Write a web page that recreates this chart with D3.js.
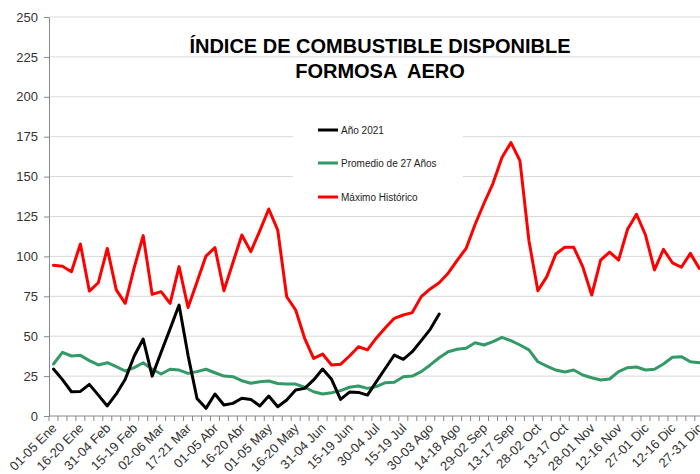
<!DOCTYPE html>
<html>
<head>
<meta charset="utf-8">
<script src="https://cdn.jsdelivr.net/npm/d3@7"></script>
<style>
  html, body { margin: 0; padding: 0; background: #fff; }
  svg { display: block; font-family: Arial, "Liberation Sans", sans-serif; }
</style>
</head>
<body>
<svg id="chart" width="700" height="474"></svg>
<script>
const categories = [
  "01-05 Ene","06-10 Ene","11-15 Ene","16-20 Ene","21-25 Ene","26-30 Ene",
  "31-04 Feb","05-09 Feb","10-14 Feb","15-19 Feb","20-24 Feb","25-01 Mar",
  "02-06 Mar","07-11 Mar","12-16 Mar","17-21 Mar","22-26 Mar","27-31 Mar",
  "01-05 Abr","06-10 Abr","11-15 Abr","16-20 Abr","21-25 Abr","26-30 Abr",
  "01-05 May","06-10 May","11-15 May","16-20 May","21-25 May","26-30 May",
  "31-04 Jun","05-09 Jun","10-14 Jun","15-19 Jun","20-24 Jun","25-29 Jun",
  "30-04 Jul","05-09 Jul","10-14 Jul","15-19 Jul","20-24 Jul","25-29 Jul",
  "30-03 Ago","04-08 Ago","09-13 Ago","14-18 Ago","19-23 Ago","24-28 Ago",
  "29-02 Sep","03-07 Sep","08-12 Sep","13-17 Sep","18-22 Sep","23-27 Sep",
  "28-02 Oct","03-07 Oct","08-12 Oct","13-17 Oct","18-22 Oct","23-27 Oct",
  "28-01 Nov","02-06 Nov","07-11 Nov","12-16 Nov","17-21 Nov","22-26 Nov",
  "27-01 Dic","02-06 Dic","07-11 Dic","12-16 Dic","17-21 Dic","22-26 Dic",
  "27-31 Dic"
];
const tickLabels = categories.filter((c, i) => i % 3 === 0);
const yTicks = [0, 25, 50, 75, 100, 125, 150, 175, 200, 225, 250];

const year2021 = [29.4, 22.8, 15.2, 15.4, 19.8, 13.1, 6.3, 13.8, 23, 37.6,
  48.2, 25, 40, 54.6, 69.5, 38, 11, 4.8, 13.8, 6.9,
  7.9, 11.1, 10.4, 6.3, 12.5, 5.8, 10, 16.3, 17.3, 22.6,
  29.4, 23, 10.4, 15, 14.8, 13.1, 21.5, 29.9, 38.2, 35.5,
  40.3, 47.2, 54.3, 63.9];
const promedio27 = [32.6, 39.9, 37.6, 38, 34.7, 32, 33.4, 30.9, 28.2, 30.3,
  33.4, 29.3, 26.3, 29.3, 28.8, 26.7, 27.8, 29.3, 27.1, 25,
  24.6, 22.1, 20.5, 21.5, 21.9, 20.4, 20, 20, 18, 15.2,
  13.8, 14.6, 15.9, 18, 18.8, 17.3, 18.4, 20.9, 21.2, 24.6,
  25, 27.8, 32, 36.5, 40.3, 41.8, 42.4, 45.9, 44.5, 46.6,
  49.3, 47.2, 44.5, 41.4, 34, 31.3, 28.8, 27.6, 28.8, 25.7,
  24, 22.6, 23.2, 27.8, 30.3, 30.7, 28.8, 29.3, 32.6, 36.8,
  37.2, 34, 33.4];
const maximoHist = [94.4, 93.8, 90.4, 107.8, 78.3, 83.5, 105, 79, 70.6, 93,
  113, 76.2, 77.9, 70.6, 93.6, 68, 84, 100.2, 105.5, 78.5,
  96, 113.4, 103, 116, 129.7, 116.5, 74.7, 66.4, 48.7, 36.1,
  38.8, 32, 32.4, 37.6, 43.4, 41.4, 48.9, 55.3, 61.2, 63.3,
  64.8, 74.8, 79.6, 83.5, 89.5, 97.5, 105, 120, 133.3, 145.8,
  162, 171.3, 160, 110, 78.5, 87.3, 101.5, 105.7, 105.7, 93.6,
  75.8, 97.7, 102.7, 97.7, 117, 126.4, 113.4, 91.5, 104.4, 96,
  93.2, 101.9, 92.5];

const seriesNames = ["Año 2021", "Promedio de 27 Años", "Máximo Histórico"];
const seriesColors = ["#000000", "#339966", "#ff0000"];
const titleLines = ["ÍNDICE DE COMBUSTIBLE DISPONIBLE", "FORMOSA  AERO"];

const svg = d3.select("#chart");
svg.append("rect").attr("width", 700).attr("height", 474).attr("fill", "#fff");

const plotLeft = 49, bandW = 8.97, plotTop = 17, plotBottom = 416;
const x = d3.scaleBand().domain(categories).range([plotLeft, plotLeft + categories.length * bandW]).padding(0);
const cx = c => x(c) + x.bandwidth() / 2;
const y = d3.scaleLinear().domain([0, 250]).range([plotBottom, plotTop]);

// gridlines
svg.append("g").selectAll("line").data(yTicks.filter(v => v > 0)).join("line")
  .attr("x1", plotLeft).attr("x2", 710)
  .attr("y1", d => y(d)).attr("y2", d => y(d))
  .attr("stroke", "#d9d9d9").attr("stroke-width", 1);

// y axis
const yAxis = svg.append("g").attr("transform", `translate(${plotLeft},0)`)
  .call(d3.axisLeft(y).tickValues(yTicks).tickSize(5).tickSizeOuter(0));
yAxis.select(".domain").attr("stroke", "#888");
yAxis.selectAll(".tick line").attr("stroke", "#888");
yAxis.selectAll(".tick text").attr("font-size", 13).attr("fill", "#333")
  .attr("font-family", "Arial, 'Liberation Sans', sans-serif").attr("x", -11);

// x axis
const xg = svg.append("g");
xg.append("line").attr("x1", plotLeft).attr("x2", 710).attr("y1", plotBottom).attr("y2", plotBottom)
  .attr("stroke", "#888");
xg.selectAll("line.tk").data(categories).join("line").attr("class", "tk")
  .attr("x1", d => x(d)).attr("x2", d => x(d))
  .attr("y1", plotBottom).attr("y2", plotBottom + 5).attr("stroke", "#888");
xg.selectAll("text").data(tickLabels).join("text")
  .attr("transform", d => `translate(${cx(d) + 4},${plotBottom + 13}) rotate(-45)`)
  .attr("text-anchor", "end")
  .attr("font-size", 13).attr("fill", "#333")
  .text(d => d);

// lines
const line = d3.line().x((d, i) => cx(categories[i])).y(d => y(d));
const data = [year2021, promedio27, maximoHist];
const order = [1, 2, 0];
order.forEach(k => {
  svg.append("path").datum(data[k])
    .attr("d", line).attr("fill", "none")
    .attr("stroke", seriesColors[k]).attr("stroke-width", 3)
    .attr("stroke-linejoin", "round").attr("stroke-linecap", "round");
});

// title
svg.append("g").selectAll("text").data(titleLines).join("text")
  .attr("x", 380).attr("y", (d, i) => 53 + i * 25)
  .attr("text-anchor", "middle").attr("font-size", 20).attr("font-weight", "bold")
  .attr("fill", "#000").style("white-space", "pre")
  .text(d => d);

// legend
const lg = svg.append("g");
lg.append("rect").attr("x", 293).attr("y", 115).attr("width", 170).attr("height", 95).attr("fill", "#fff");
const legY = [130, 163, 197];
lg.selectAll("line").data(seriesNames).join("line")
  .attr("x1", 318).attr("x2", 338)
  .attr("y1", (d, i) => legY[i]).attr("y2", (d, i) => legY[i])
  .attr("stroke", (d, i) => seriesColors[i]).attr("stroke-width", 3);
lg.selectAll("text").data(seriesNames).join("text")
  .attr("x", 341).attr("y", (d, i) => legY[i] + 3.5)
  .attr("font-size", 10).attr("fill", "#222")
  .text(d => d);
</script>
</body>
</html>
